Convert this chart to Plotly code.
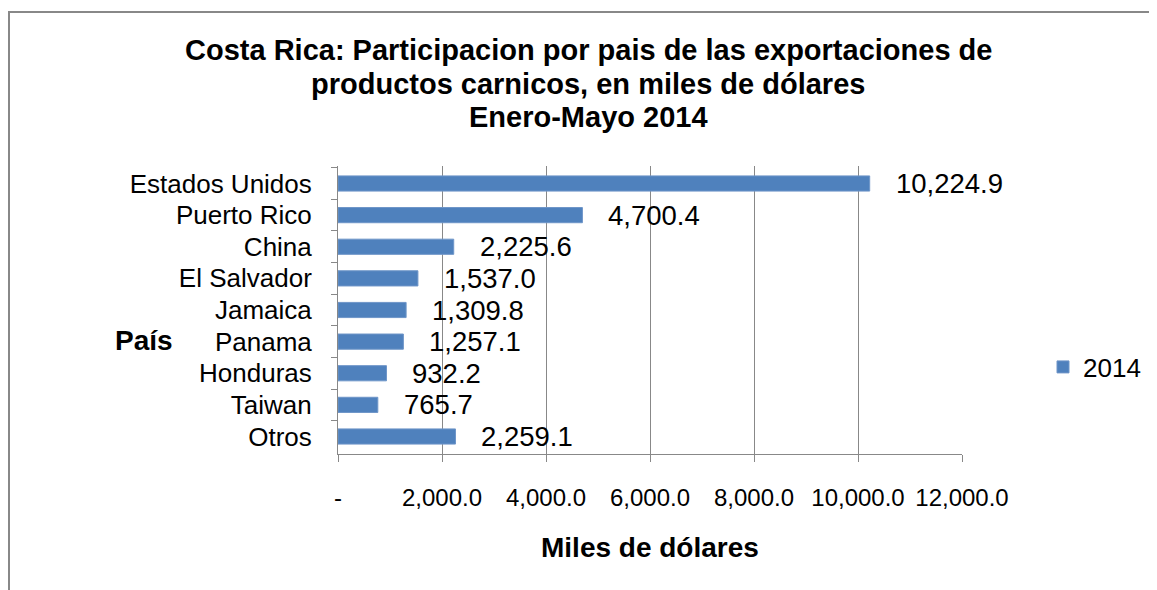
"""Costa Rica meat exports by country, Jan-May 2014"""
import plotly.graph_objects as go

paises = ['Estados Unidos', 'Puerto Rico', 'China', 'El Salvador', 'Jamaica',
          'Panama', 'Honduras', 'Taiwan', 'Otros']
valores_2014 = [10224.9, 4700.4, 2225.6, 1537.0, 1309.8, 1257.1, 932.2, 765.7, 2259.1]
x_ticks = [0, 2000, 4000, 6000, 8000, 10000, 12000]
x_tick_labels = ['-', '2,000.0', '4,000.0', '6,000.0', '8,000.0', '10,000.0', '12,000.0']
titulo = ['Costa Rica: Participacion por pais de las exportaciones de',
          'productos carnicos, en miles de dólares',
          'Enero-Mayo 2014']

# the page body adds an 8px margin, size the figure around it
OFF = 8
W, H = 1157 - 2 * OFF, 590 - OFF
L, T = 338 - OFF, 166 - OFF
pw, ph = 624, 288
R, B = W - L - pw, H - T - ph


def px_x(sx):
    """screen x pixel -> paper coordinate"""
    return (sx - OFF - L) / pw


def px_y(sy):
    """screen y pixel -> paper coordinate"""
    return (T + ph - (sy - OFF)) / ph


fig = go.Figure()

fig.add_trace(go.Bar(
    y=paises,
    x=valores_2014,
    orientation='h',
    name='2014',
    marker=dict(color='#4F81BD', line=dict(color='#6E95C8', width=1)),
))

# data labels, pushed right of the bar ends like Excel does
for p, v in zip(paises, valores_2014):
    fig.add_annotation(
        x=v, y=p, xref='x', yref='y',
        text=f"{v:,.1f}", showarrow=False,
        xanchor='left', xshift=24,
        font=dict(size=27.5, color='#000000'),
    )

# title, one annotation per line to keep the tight line spacing
for linea, sy in zip(titulo, [50, 84, 117]):
    fig.add_annotation(
        x=px_x(588), y=px_y(sy), xref='paper', yref='paper',
        text=f'<b>{linea}</b>', showarrow=False,
        xanchor='center', yanchor='middle',
        font=dict(size=29, color='#000000'),
    )

fig.add_annotation(
    x=px_x(144), y=px_y(340), xref='paper', yref='paper',
    text='<b>País</b>', showarrow=False,
    xanchor='center', yanchor='middle',
    font=dict(size=28, color='#000000'),
)

fig.add_annotation(
    x=px_x(650), y=px_y(547), xref='paper', yref='paper',
    text='<b>Miles de dólares</b>', showarrow=False,
    xanchor='center', yanchor='middle',
    font=dict(size=28, color='#000000'),
)

# outer chart frame
fig.add_shape(
    type='rect', xref='paper', yref='paper',
    x0=px_x(9), x1=px_x(1200), y0=px_y(640), y1=px_y(12),
    line=dict(color='#888888', width=2),
    layer='below',
)

fig.update_layout(
    width=W, height=H,
    margin=dict(l=L, r=R, t=T, b=B, autoexpand=False),
    paper_bgcolor='white',
    plot_bgcolor='white',
    font=dict(family='Liberation Sans, Arial, sans-serif', color='#000000'),
    bargap=0.52,
    showlegend=True,
    legend=dict(
        x=px_x(1146), y=px_y(367), xanchor='right', yanchor='middle',
        font=dict(size=26),
        bgcolor='rgba(0,0,0,0)',
    ),
    xaxis=dict(
        range=[0, 12000],
        tickvals=x_ticks, ticktext=x_tick_labels,
        showgrid=True, gridcolor='#888888', gridwidth=1,
        showline=True, linecolor='#888888', linewidth=1,
        ticks='outside', ticklen=7, tickcolor='#888888',
        ticklabelstandoff=15,
        tickfont=dict(size=24),
        zeroline=False,
        automargin=False,
    ),
    yaxis=dict(
        autorange='reversed',
        showline=True, linecolor='#888888', linewidth=1,
        ticks='outside', ticklen=6, tickcolor='#888888',
        tickson='boundaries',
        tickfont=dict(size=26),
        ticklabelstandoff=20,
        showgrid=False,
        automargin=False,
    ),
)

fig.write_html("out.html")
